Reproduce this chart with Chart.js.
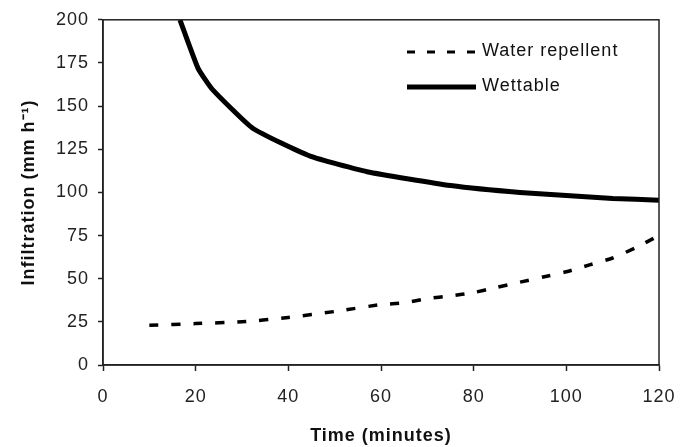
<!DOCTYPE html>
<html>
<head>
<meta charset="utf-8">
<script src="https://cdn.jsdelivr.net/npm/chart.js@4"></script>
<style>
  html, body { margin: 0; padding: 0; background: #fff; }
  #wrap { width: 680px; height: 447px; }
</style>
</head>
<body>
<div id="wrap"><canvas id="chart"></canvas></div>
<script>
// values
const repellentTime = [10, 20, 30, 40, 50, 60, 65, 70, 75, 80, 85, 90, 95, 100, 105, 110, 115, 120];
const repellentInfil = [23, 24, 25, 27.5, 31, 35, 36, 38.5, 40, 42, 45, 48, 51, 54, 58, 62, 68, 75];
const wettableTime = [16.6, 20.5, 23.5, 32.4, 44.7, 57, 75, 90, 110, 120];
const wettableInfil = [200, 172, 160, 137, 121, 112, 104, 100, 96.5, 95.5];
const seriesNames = ['Water repellent', 'Wettable'];
const xTicks = [0, 20, 40, 60, 80, 100, 120];
const yTicks = [0, 25, 50, 75, 100, 125, 150, 175, 200];

const FONT = '"Liberation Sans", Arial, sans-serif';
const toPoints = (xs, ys) => xs.map((x, i) => ({ x: x, y: ys[i] }));

// the original text is a bit wider than Arial, so spread the letters a little
const wideText = {
  id: 'wideText',
  beforeInit(chart) { chart.ctx.letterSpacing = '1px'; },
  beforeLayout(chart) { chart.ctx.letterSpacing = '1px'; }
};

// frame round the plot + legend in the top right
const frameAndLegend = {
  id: 'frameAndLegend',
  afterDatasetsDraw(chart) {
    const ctx = chart.ctx;
    const a = chart.chartArea;
    ctx.save();
    ctx.strokeStyle = '#222';
    ctx.lineWidth = 1.5;
    ctx.strokeRect(a.left, a.top, a.right - a.left, a.bottom - a.top);

    const rows = [
      { y: 52, dash: [8, 12], width: 3 },
      { y: 87, dash: [], width: 5 }
    ];
    ctx.font = '18px ' + FONT;
    ctx.fillStyle = '#111';
    ctx.textBaseline = 'middle';
    rows.forEach((r, i) => {
      ctx.beginPath();
      ctx.setLineDash(r.dash);
      ctx.lineWidth = r.width;
      ctx.strokeStyle = '#000';
      ctx.moveTo(407, r.y);
      ctx.lineTo(476, r.y);
      ctx.stroke();
      ctx.setLineDash([]);
      ctx.fillText(chart.data.datasets[i].label, 482, r.y - 1);
    });
    ctx.restore();
  }
};

new Chart(document.getElementById('chart'), {
  type: 'line',
  data: {
    datasets: [
      {
        label: seriesNames[0],
        data: toPoints(repellentTime, repellentInfil),
        borderColor: '#000',
        borderWidth: 3.5,
        borderDash: [9, 13],
        pointRadius: 0,
        tension: 0.2,
        fill: false
      },
      {
        label: seriesNames[1],
        data: toPoints(wettableTime, wettableInfil),
        borderColor: '#000',
        borderWidth: 5,
        pointRadius: 0,
        tension: 0.15,
        fill: false
      }
    ]
  },
  options: {
    responsive: true,
    maintainAspectRatio: false,
    animation: false,
    layout: { padding: { top: 18, right: 21, left: 0, bottom: 0 } },
    plugins: {
      legend: { display: false },
      tooltip: { enabled: false }
    },
    scales: {
      x: {
        type: 'linear',
        min: 0,
        max: 120,
        afterBuildTicks: (s) => { s.ticks = xTicks.map(v => ({ value: v })); },
        afterFit: (s) => {
          s.height = 82;
          // keep the plot edges fixed, the labels may hang over
          s.paddingLeft = 0;
          s.paddingRight = 0;
        },
        grid: { drawOnChartArea: false, tickLength: 6, color: '#222', tickWidth: 1.5 },
        border: { color: '#222', width: 1.5 },
        ticks: { color: '#222', padding: 15, font: { size: 18, family: FONT } },
        title: {
          display: true,
          text: 'Time (minutes)',
          color: '#111',
          padding: { top: 10, bottom: 0 },
          font: { size: 18, weight: 'bold', family: FONT }
        }
      },
      y: {
        min: 0,
        max: 200,
        afterBuildTicks: (s) => { s.ticks = yTicks.map(v => ({ value: v })); },
        afterFit: (s) => { s.width = 103; },
        grid: { drawOnChartArea: false, tickLength: 5, color: '#222', tickWidth: 1.5 },
        border: { color: '#222', width: 1.5 },
        ticks: { color: '#222', padding: 9, font: { size: 18, family: FONT } },
        title: {
          display: true,
          text: 'Infiltration (mm h⁻¹)',
          color: '#111',
          padding: { top: 18, bottom: 0 },
          font: { size: 18, weight: 'bold', family: FONT }
        }
      }
    }
  },
  plugins: [wideText, frameAndLegend]
});
</script>
</body>
</html>
